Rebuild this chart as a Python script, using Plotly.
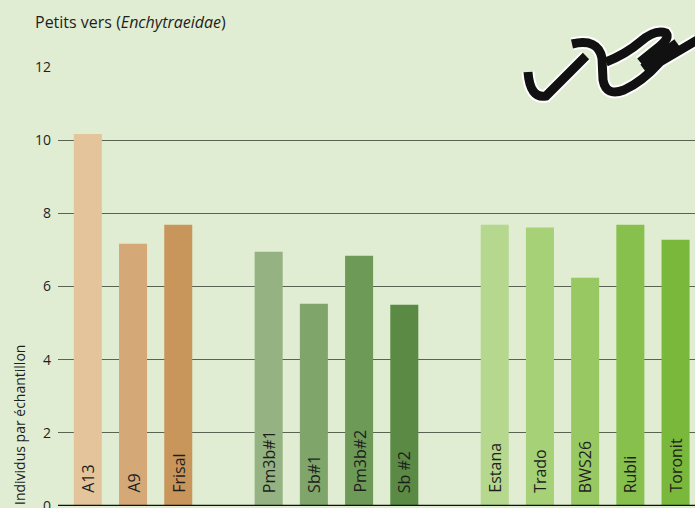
import plotly.graph_objects as go

# ---- data ----
categories = ["A13", "A9", "Frisal", "Pm3b#1", "Sb#1", "Pm3b#2", "Sb #2",
              "Estana", "Trado", "BWS26", "Rubli", "Toronit"]
slots = [0, 1, 2, 4, 5, 6, 7, 9, 10, 11, 12, 13]
values = [10.17, 7.17, 7.69, 6.95, 5.53, 6.84, 5.50, 7.69, 7.61, 6.24, 7.69, 7.28]
colors = ["#e3c49b", "#d5a977", "#c8965a",
          "#95b382", "#80a56a", "#6d9a57", "#5a8a44",
          "#b5d88e", "#a6d176", "#98c862", "#88c04e", "#79b83a"]
y_ticks = [0, 2, 4, 6, 8, 10, 12]

W, H = 695, 508
L, R, T, B = 58, 0, 67, 2
FONT = "Open Sans"
BG = "#e1edd2"
TXT = "#1e1e1e"

fig = go.Figure()
fig.add_trace(go.Bar(x=slots, y=values, marker=dict(color=colors, line=dict(width=0)),
                     width=0.62, hoverinfo="skip"))

for s, c in zip(slots, categories):
    fig.add_annotation(x=s, y=0, xref="x", yref="y", text=c, textangle=-90,
                       showarrow=False, yanchor="bottom", yshift=11,
                       font=dict(family=FONT, size=16, color=TXT))

# helper for decorative worm in paper coords
pw = W - L - R
ph = H - T - B
def P(x, y):
    return f"{(x - L) / pw:.4f},{(H - B - y) / ph:.4f}"

worm_paths = [
    "M" + P(528, 72) + " Q" + P(530, 99) + " " + P(546, 96) + " L" + P(586, 56),
    "M" + P(572, 44) + " Q" + P(598, 38) + " " + P(602, 58) + " L" + P(603, 80) +
    " Q" + P(606, 97) + " " + P(624, 90) + " Q" + P(642, 82) + " " + P(660, 62) +
    " L" + P(697, 40),
    "M" + P(606, 62) + " Q" + P(626, 54) + " " + P(640, 42) + " Q" + P(655, 29) + " " +
    P(666, 33) + " Q" + P(670, 38) + " " + P(660, 46) + " L" + P(640, 62),
    "M" + P(643, 68) + " L" + P(677, 43),
]
for pth in worm_paths:
    fig.add_shape(type="path", path=pth, xref="paper", yref="paper",
                  line=dict(color="white", width=13), layer="above")
for pth in worm_paths:
    fig.add_shape(type="path", path=pth, xref="paper", yref="paper",
                  line=dict(color="#111111", width=9), layer="above")

fig.add_annotation(text="Individus par échantillon", textangle=-90, showarrow=False,
                   xref="paper", yref="paper", x=(19 - L) / pw, y=(H - B - 425) / ph,
                   xanchor="center", yanchor="middle",
                   font=dict(family=FONT, size=14, color=TXT))

fig.update_layout(
    width=W, height=H,
    margin=dict(l=L, r=R, t=T, b=B, pad=0, autoexpand=False),
    paper_bgcolor=BG, plot_bgcolor=BG,
    showlegend=False,
    title=dict(text="Petits vers (<i>Enchytraeidae</i>)", x=35 / W, xanchor="left",
               xref="container", y=1 - 22 / H, yref="container", yanchor="middle",
               font=dict(family=FONT, size=16, color=TXT)),
    xaxis=dict(range=[-0.66, 13.43], showgrid=False, zeroline=False,
               showticklabels=False, ticks="", showline=False, automargin=False),
    yaxis=dict(range=[0, 12], tickvals=y_ticks, showgrid=True, gridcolor="#5a6352",
               gridwidth=1.4, zeroline=False, showline=False, ticks="",
               ticklabelstandoff=6, ticklabeloverflow="allow", automargin=False,
               tickfont=dict(family=FONT, size=14, color=TXT)),
)
fig.add_shape(type="line", xref="paper", yref="y", x0=0, x1=1, y0=0, y1=0,
              line=dict(color="#111111", width=2.5), layer="above")

fig.write_html("out.html", config={"displayModeBar": False},
               post_script="document.body.style.margin='0';")
